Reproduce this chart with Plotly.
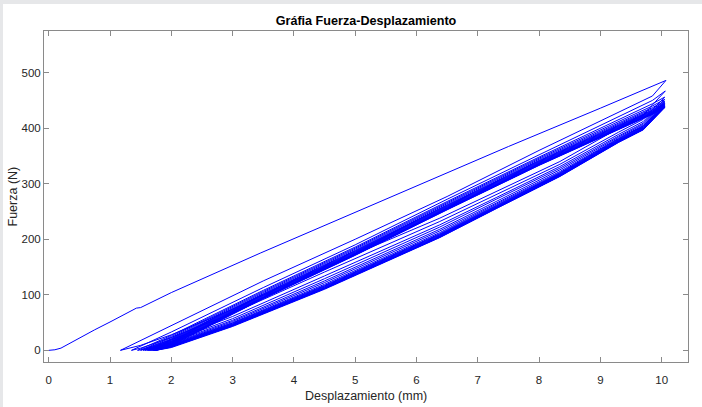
import plotly.graph_objects as go

# ---------------- data ----------------
# Initial loading curve (mm, N)
LOAD0_X = [0.0, 0.1, 0.2, 0.3, 0.5, 0.75, 1.0, 1.2, 1.38, 1.43, 1.5, 1.7, 2.0, 3.45, 5.41, 7.5, 9.0, 10.07]
LOAD0_Y = [0.0, 1.0, 4.0, 10.0, 23.0, 37.0, 51.0, 62.0, 72.0, 76.0, 77.0, 88.0, 104.0, 175.0, 268.0, 367.0, 436.0, 486.0]

# Unloading branches (upper band): peak, knee at 9.85 mm, values at UP_X, tip at zero force
PEAK_X = [10.07, 10.06] + [10.05] * 16
PEAK_Y = [486, 467, 456, 452, 449, 447, 445, 444, 443, 442, 441, 440, 439.5, 439, 438.5, 438, 437.5, 437]
KNEE_Y = [458, 450, 444, 440, 437, 435, 433, 432, 431, 430, 429, 428, 427.5, 427, 426.5, 426, 425.5, 425]
TIP_X = [1.17, 1.35, 1.45, 1.50, 1.54, 1.57, 1.60, 1.62, 1.64, 1.66, 1.68, 1.70, 1.71, 1.72, 1.73, 1.74, 1.75, 1.76]
UP_X = [8.0, 6.5, 5.0, 3.5, 2.0]
UP_Y = [
    [360, 277, 200, 125, 45],
    [352, 272, 190, 113, 33],
    [348, 268, 186, 108, 27],
    [346, 266, 184, 106, 25],
    [344, 264, 182, 104, 23],
    [342, 262, 180, 102, 21],
    [341, 261, 179, 101, 20],
    [340, 260, 178, 100, 19],
    [339, 259, 177, 99, 18],
    [338, 258, 176, 98, 17],
    [337, 257, 175, 97, 16],
    [336, 256, 174, 96, 15],
    [335.5, 255.5, 173.5, 95.5, 14],
    [335, 255, 173, 95, 13],
    [334.5, 254.5, 172.5, 94.5, 12],
    [334, 254, 172, 94, 11],
    [333.5, 253.5, 171.5, 93.5, 10],
    [333, 253, 171, 93, 9],
]

# Reloading branches (lower band): from tip k to peak k+1, values at LOW_X
LOW_X = [1.5, 2.0, 3.0, 4.5, 6.38, 7.3, 8.34, 9.3, 9.7]
LOW_Y = [
    [9, 28, 74, 150, 238, 286, 340, 400, 424],
    [4, 23, 67, 141, 232, 280, 335, 393, 416],
    [1, 19, 61, 134, 226, 275, 331, 389, 412],
    [0, 16, 57, 129, 222, 272, 328, 386, 409],
    [0, 14, 54, 125, 218, 268, 325, 384, 407],
    [0, 12, 52, 122, 215, 265, 322, 382, 405],
    [0, 11, 50, 119, 212, 263, 320, 381, 404],
    [0, 10, 49, 117, 210, 261, 319, 380, 403],
    [0, 9, 48, 116, 209, 260, 318, 379, 402],
    [0, 9, 47, 115, 208, 259, 317, 378, 401],
    [0, 8, 46, 114, 207, 258, 316, 377.5, 400],
    [0, 8, 46, 113, 206, 257.5, 315.5, 377, 399.5],
    [0, 7, 45, 112, 205, 257, 315, 376.5, 399],
    [0, 7, 45, 112, 204.5, 256.5, 314.5, 376, 398.5],
    [0, 6, 44, 111, 204, 256, 314, 375.5, 398],
    [0, 6, 44, 111, 203.5, 255.5, 313.5, 375, 397.5],
    [0, 5, 43, 110, 203, 255, 313, 374.5, 397],
]

X_TICKS = [0, 1, 2, 3, 4, 5, 6, 7, 8, 9, 10]
Y_TICKS = [0, 100, 200, 300, 400, 500]

# ---------------- build single continuous trace ----------------
xs = list(LOAD0_X)
ys = list(LOAD0_Y)
n = len(PEAK_Y)
for k in range(n):
    if k > 0:
        xs.append(PEAK_X[k]); ys.append(PEAK_Y[k])
    xs.append(9.85); ys.append(KNEE_Y[k])
    for xv, yv in zip(UP_X, UP_Y[k]):
        xs.append(xv); ys.append(yv)
    xs.append(TIP_X[k]); ys.append(0)
    if k < len(LOW_Y):
        for xv, yv in zip(LOW_X, LOW_Y[k]):
            if xv <= TIP_X[k]:
                continue
            xs.append(xv); ys.append(yv)

fig = go.Figure()
fig.add_trace(go.Scatter(x=xs, y=ys, mode="lines",
                         line=dict(color="#0000FF", width=1),
                         showlegend=False, hoverinfo="skip"))

FONT = "Liberation Sans, Arial, Helvetica, sans-serif"
AX_COLOR = "#8a8a8a"
LBL_COLOR = "#262626"

fig.update_layout(
    width=702, height=407,
    margin=dict(l=44, r=14, t=31, b=45),
    paper_bgcolor="white", plot_bgcolor="white",
    font=dict(family=FONT, size=11, color=LBL_COLOR),
    title=dict(text="<b>Gráfia Fuerza-Desplazamiento</b>",
               x=0.5, xref="paper", xanchor="center",
               y=1 - 21 / 407, yref="container", yanchor="middle",
               font=dict(family=FONT, size=12.6, color="#000000")),
    shapes=[
        dict(type="rect", xref="paper", yref="paper", layer="below",
             x0=-44 / 644 - 0.01, x1=-41 / 644, y0=-0.2, y1=1.2,
             fillcolor="#e6e7e9", line=dict(width=0)),
        dict(type="rect", xref="paper", yref="paper", layer="below",
             x0=-0.1, x1=1.1, y0=(362 - 4) / 331, y1=1.2,
             fillcolor="#e6e7e9", line=dict(width=0)),
    ],
    annotations=[
        dict(text="Desplazamiento (mm)", xref="paper", yref="paper",
             x=0.5, y=-(396 - 362) / 331, xanchor="center", yanchor="middle",
             showarrow=False, font=dict(family=FONT, size=12.5, color=LBL_COLOR)),
        dict(text="Fuerza (N)", xref="paper", yref="paper",
             x=-(44 - 12) / 644, y=0.5, xanchor="center", yanchor="middle",
             textangle=-90, showarrow=False,
             font=dict(family=FONT, size=12.5, color=LBL_COLOR)),
    ],
)

fig.update_xaxes(range=[-0.077, 10.43], tickvals=X_TICKS,
                 ticks="inside", ticklen=5, tickwidth=1, tickcolor=AX_COLOR,
                 showline=True, linecolor=AX_COLOR, linewidth=1, mirror="allticks",
                 showgrid=False, zeroline=False, ticklabelstandoff=7,
                 tickfont=dict(family=FONT, size=11.5, color=LBL_COLOR))
fig.update_yaxes(range=[-21, 575], tickvals=Y_TICKS,
                 ticks="inside", ticklen=5, tickwidth=1, tickcolor=AX_COLOR,
                 showline=True, linecolor=AX_COLOR, linewidth=1, mirror="allticks",
                 showgrid=False, zeroline=False,
                 tickfont=dict(family=FONT, size=11.5, color=LBL_COLOR))

fig.write_html("out.html")
